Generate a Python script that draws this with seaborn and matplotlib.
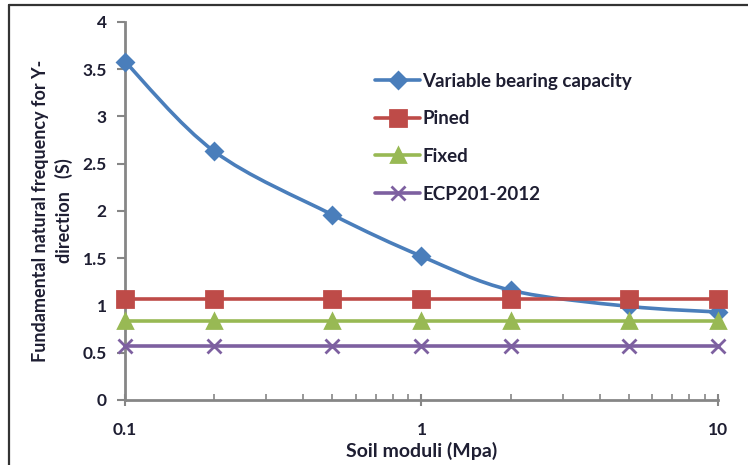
import numpy as np
import pandas as pd
import seaborn as sns
import matplotlib
matplotlib.use("Agg")
import matplotlib.pyplot as plt
from matplotlib.path import Path
from matplotlib.patches import PathPatch
from matplotlib.lines import Line2D
from matplotlib.ticker import FixedLocator, LogLocator, NullFormatter, FuncFormatter

# Soil moduli (MPa)
soil_moduli = [0.1, 0.2, 0.5, 1, 2, 5, 10]

# Fundamental natural frequency for each support model
variable_bearing = [3.58, 2.63, 1.96, 1.52, 1.16, 0.99, 0.93]
pined = [1.07, 1.07, 1.07, 1.07, 1.07, 1.07, 1.07]
fixed = [0.84, 0.84, 0.84, 0.84, 0.84, 0.84, 0.84]
ecp = [0.57, 0.57, 0.57, 0.57, 0.57, 0.57, 0.57]

series_names = ["Variable bearing capacity", "Pined", "Fixed", "ECP201-2012"]
series_values = [variable_bearing, pined, fixed, ecp]
colors = ["#4A7EBB", "#BE4B48", "#98B954", "#7D60A0"]
markers = ["D", "s", "^", "x"]
msizes = [8.5, 11, 10, 10]

y_ticks = [0, 0.5, 1, 1.5, 2, 2.5, 3, 3.5, 4]
x_ticks = [0.1, 1, 10]

sns.set_style("white")
plt.rcParams["font.family"] = ["Lato", "DejaVu Sans"]

fig = plt.figure(figsize=(7.48, 4.65), dpi=100)
ax = fig.add_axes([0.167, 0.14, 0.793, 0.813])
ax.set_xscale("log")

lw = 2.6
for name, vals, c, mk, ms in zip(series_names, series_values, colors, markers, msizes):
    d = pd.DataFrame({"E": soil_moduli, "f": vals})
    smooth = name == "Variable bearing capacity"
    sns.lineplot(data=d, x="E", y="f", color=c, marker=mk, markersize=ms,
                 markerfacecolor=c, markeredgecolor=c, markeredgewidth=2.0,
                 linewidth=0 if smooth else lw, ax=ax, legend=False,
                 clip_on=False, zorder=3)

# Smooth (Bezier) curve through the variable bearing capacity points
u = np.log10(soil_moduli)
v = np.array(variable_bearing)
verts = [(soil_moduli[0], v[0])]
codes = [Path.MOVETO]
n = len(u)
for i in range(n - 1):
    p0 = (u[max(i - 1, 0)], v[max(i - 1, 0)])
    p1 = (u[i], v[i])
    p2 = (u[i + 1], v[i + 1])
    p3 = (u[min(i + 2, n - 1)], v[min(i + 2, n - 1)])
    c1 = (p1[0] + (p2[0] - p0[0]) / 6, p1[1] + (p2[1] - p0[1]) / 6)
    c2 = (p2[0] - (p3[0] - p1[0]) / 6, p2[1] - (p3[1] - p1[1]) / 6)
    for pt in (c1, c2, p2):
        verts.append((10 ** pt[0], pt[1]))
    codes += [Path.CURVE4] * 3
curve = PathPatch(Path(verts, codes), facecolor="none", edgecolor=colors[0],
                  linewidth=lw, zorder=2.9, capstyle="round")
ax.add_patch(curve)

ax.set_xlim(0.1, 10)
ax.set_ylim(0, 4)
ax.yaxis.set_major_locator(FixedLocator(y_ticks))
ax.yaxis.set_major_formatter(FuncFormatter(lambda val, pos: f"{val:g}"))
ax.xaxis.set_major_locator(FixedLocator(x_ticks))
ax.xaxis.set_major_formatter(FuncFormatter(lambda val, pos: f"{val:g}"))
ax.xaxis.set_minor_locator(LogLocator(base=10, subs=np.arange(2, 10)))
ax.xaxis.set_minor_formatter(NullFormatter())

spine_color = "#868686"
for s in ["top", "right"]:
    ax.spines[s].set_visible(False)
for s in ["left", "bottom"]:
    ax.spines[s].set_color(spine_color)
    ax.spines[s].set_linewidth(2.0)

text_color = "#1E1E32"
ax.tick_params(axis="y", which="major", direction="out", length=6, width=1.5,
               color=spine_color, labelsize=12.5, labelcolor=text_color, pad=7, left=True)
ax.tick_params(axis="x", which="major", direction="inout", length=8, width=1.5,
               color=spine_color, labelsize=12.5, labelcolor=text_color, pad=12, bottom=True)
ax.tick_params(axis="x", which="minor", direction="in", length=4, width=1.2,
               color=spine_color, bottom=True)
for lab in ax.get_xticklabels() + ax.get_yticklabels():
    lab.set_fontweight("bold")

ax.set_xlabel("Soil moduli (Mpa)", fontsize=14, fontweight="bold",
              color=text_color, labelpad=3)
ax.set_ylabel("Fundamental natural frequency for Y-\ndirection   (S)",
              fontsize=13, fontweight="bold", color=text_color, labelpad=7,
              linespacing=1.35)

handles = [Line2D([0], [0], color=c, marker=m, markersize=ms, linewidth=lw,
                  markerfacecolor=c, markeredgecolor=c, markeredgewidth=2.0)
           for c, m, ms in zip(colors, markers, msizes)]
leg = ax.legend(handles, series_names, loc="upper left",
                bbox_to_anchor=(0.394, 0.91), frameon=False,
                handlelength=2.4, handletextpad=0.1, labelspacing=1.1,
                prop={"family": ["Lato", "DejaVu Sans"], "weight": "bold",
                      "size": 13.5})
for t in leg.get_texts():
    t.set_color(text_color)

# outer frame lines along the top and left of the figure
fig.add_artist(Line2D([9 / 748, 1.0], [1 - 5 / 465, 1 - 5 / 465],
                      transform=fig.transFigure, color="#333333", linewidth=1.6))
fig.add_artist(Line2D([9 / 748, 9 / 748], [0, 1 - 5 / 465],
                      transform=fig.transFigure, color="#333333", linewidth=1.6))

fig.savefig("out.png", dpi=100)
